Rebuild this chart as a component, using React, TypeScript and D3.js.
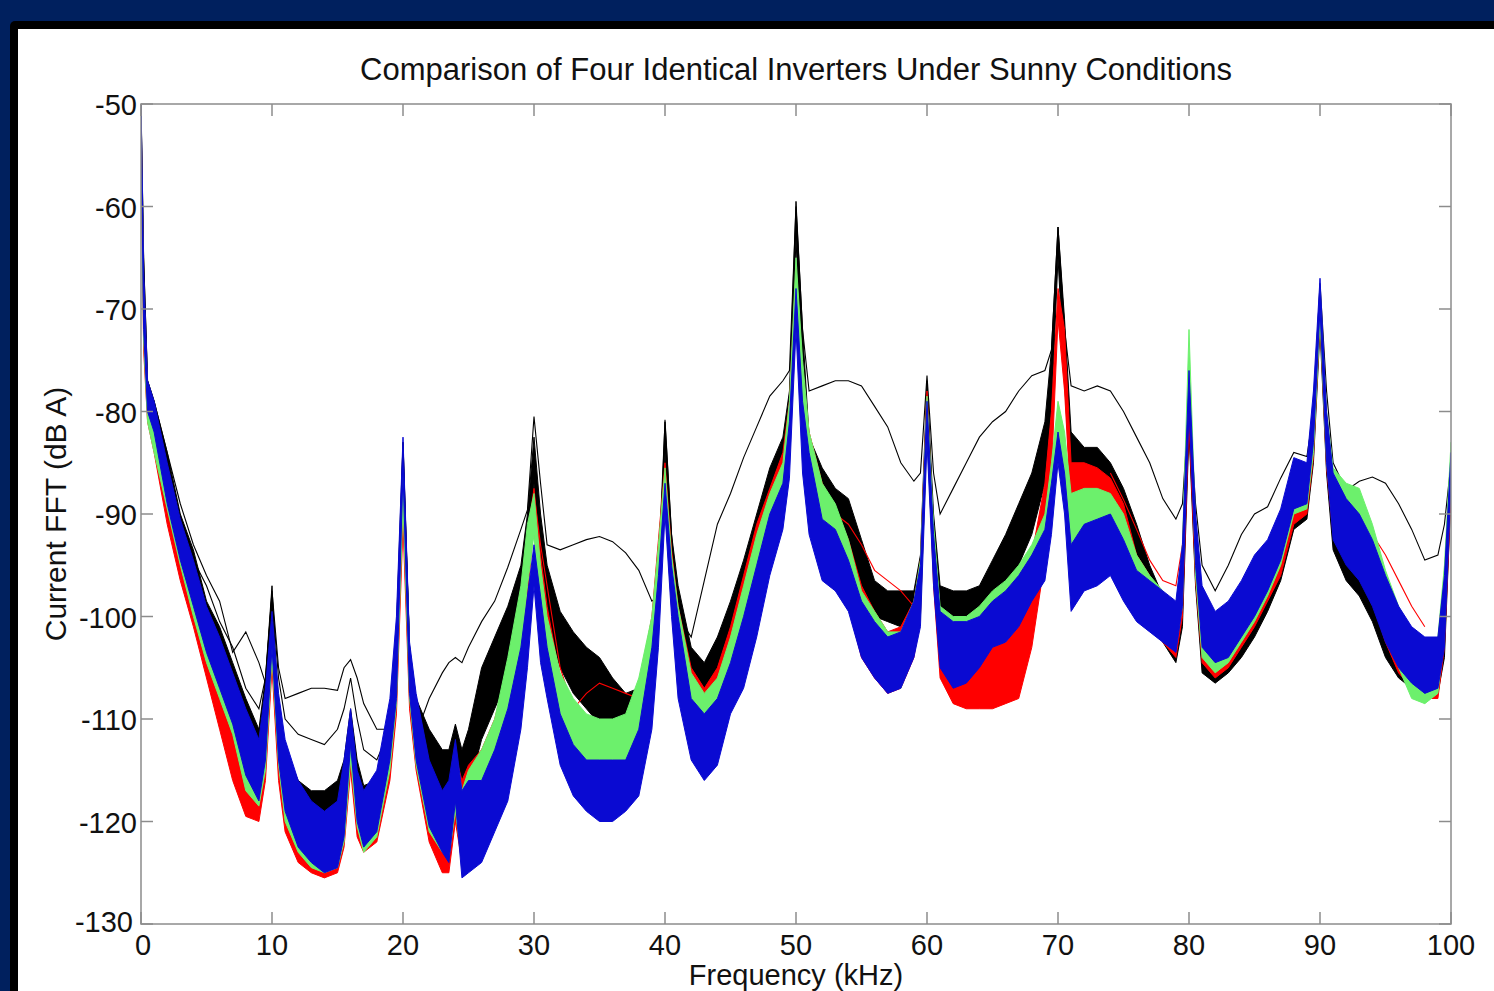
import React from 'react';
import * as d3 from 'd3';

// frequency grid (kHz), denser around the switching harmonics
const freqs = [
  0, 0.2, 0.5, 1, 2, 3, 4, 5, 6, 7, 8, 9, 9.5, 10,
  10.5, 11, 12, 13, 14, 15, 15.5, 16, 16.5, 17, 18, 19, 19.5, 20,
  20.5, 21, 22, 23, 23.5, 24, 24.5, 25, 26, 27, 28, 29, 29.5, 30,
  30.5, 31, 32, 33, 34, 35, 36, 37, 38, 39, 39.5, 40,
  40.5, 41, 42, 43, 44, 45, 46, 47, 48, 49, 49.5, 50,
  50.5, 51, 52, 53, 54, 55, 56, 57, 58, 59, 59.5, 60,
  60.5, 61, 62, 63, 64, 65, 66, 67, 68, 69, 69.5, 70,
  70.5, 71, 72, 73, 74, 75, 76, 77, 78, 79, 79.5, 80,
  80.5, 81, 82, 83, 84, 85, 86, 87, 88, 89, 89.5, 90,
  90.5, 91, 92, 93, 94, 95, 96, 97, 98, 99, 99.5, 100,
];

// each inverter: upper / lower edge of its bundle of FFT traces (dB A)
const blackHi = [
  -50, -65, -77, -79, -84, -90, -93.5, -98.5, -101, -104.5, -108, -111, -106, -97,
  -110, -113, -116, -117, -117, -116, -114, -109, -114, -116.5, -116, -111, -101, -83,
  -103, -108, -111, -113, -113, -110.5, -113, -111, -105, -102, -99, -95, -90, -82.5,
  -90, -95, -99.5, -101.5, -103, -104, -106, -107.5, -107, -101, -95, -81,
  -92, -97, -103, -104.5, -102, -98.5, -94.5, -90, -85.5, -82.5, -78, -59.5,
  -72, -82.5, -85.5, -87.5, -88.5, -92.5, -96.5, -97.5, -97.5, -97.5, -94, -77,
  -90, -97, -97.5, -97.5, -97, -94.5, -92, -89, -86, -81, -74, -62,
  -71, -82, -83.5, -83.5, -85, -87.5, -91, -95, -98, -100.5, -95, -78,
  -91.5, -99, -101, -100, -98.5, -96.5, -94, -91, -87, -86.5, -80, -69,
  -81, -87.5, -90.5, -92, -94.5, -98, -100.5, -102, -103, -102.5, -97, -85,
];
const blackLo = [
  -52, -70, -79, -81.5, -87, -93, -97, -102, -105.5, -109, -113, -116.5, -112, -101,
  -114, -118, -120.5, -121.5, -122, -121.5, -119, -112.5, -119, -121, -120, -115, -108, -87,
  -108, -114, -118, -120, -121, -116, -119, -117, -112, -109, -106, -102, -97, -87,
  -96, -101, -105, -107.5, -109, -110.5, -112.5, -113, -111.5, -106, -99, -84,
  -98, -103, -108.5, -110, -108, -104, -100.5, -95.5, -91, -88, -83, -63,
  -80, -88.5, -91.5, -93, -94.5, -97.5, -100, -100.5, -101, -100.5, -98, -80,
  -94, -101.5, -103.5, -103.5, -102.5, -100.5, -98, -95, -92, -87, -80, -65,
  -77, -88, -89, -89.5, -90.5, -92.5, -96, -99.5, -102.5, -104.5, -101, -82,
  -97, -105.5, -106.5, -105.5, -104, -102, -99.5, -96.5, -91.5, -90.5, -85, -72,
  -86, -93.5, -96.5, -98, -100.5, -104, -106, -107, -108, -107.5, -104, -88,
];
// two single black traces that stray from the bundle
const blackMid = [
  null, null, null, null, -85, -90.5, -94.5, -97, -100.5, -103, -107, -109, -106, -98,
  -106, -110, -111.5, -112, -112.5, -111, -109, -106, -110, -113, -114, -111, -104, -84,
  -103, -109, -112, -114, -115, -111.5, -114, -113, null, null, null, null, null, null,
  null, null, null, null, null, null, null, null, null, null, null, null,
  null, null, null, null, null, null, null, null, null, null, null, null,
  null, null, null, null, null, null, null, null, null, null, null, null,
  null, null, null, null, null, null, null, null, null, null, null, null,
  null, null, null, null, null, null, null, null, null, null, null, null,
  null, null, null, null, null, null, null, null, null, null, null, null,
  null, null, null, null, null, null, null, null, null, null, null, null,
];
const blackOut = [
  -50, -65, -77, -79, -84, -89, -93, -96, -98.5, -103.5, -101.5, -104.5, -106.5, -97.5,
  -105, -108, -107.5, -107, -107, -107.2, -105, -104.2, -106, -108.5, -111, -111, -105, -83,
  -103, -111.5, -108, -105.5, -104.5, -104, -104.5, -103, -100.5, -98.5, -95.2, -91.5, -89.6, -80.5,
  -87, -93, -93.5, -93, -92.5, -92.2, -92.7, -93.8, -95.5, -98.5, -98, -80.8,
  -92, -100, -102, -96.5, -91, -88, -84.5, -81.5, -78.5, -77, -76, -60,
  -72, -78, -77.5, -77, -77, -77.5, -79.5, -81.5, -85, -86.8, -86, -76.5,
  -86, -90, -87.5, -85, -82.5, -81, -80, -78, -76.5, -76, -74, -62,
  -72, -77.5, -78, -77.5, -78, -80, -82.5, -85, -88.5, -90.5, -89, -79,
  -89, -95, -97.5, -95, -92, -90, -89.3, -86.5, -84, -84.4, -80, -67.5,
  -78, -85, -87.7, -86.8, -86.4, -87, -89, -91.5, -94.5, -94, -91, -85,
];

const redHi = [
  -51, -68, -78, -80.5, -86.5, -92, -96.5, -101, -104, -108, -112, -114, -109, -101,
  -109, -114, -118, -120, -121, -120, -116, -111, -117, -119, -117, -110, -102, -88,
  -103.5, -109, -115, -117.5, -117, -113.5, -116, -114.5, -113, -110, -105, -98, -92, -87.5,
  -94, -99, -106, -109, -110, -111, -111, -110, -107, -100, -92.5, -85,
  -93.5, -99, -105, -107, -105, -101, -96, -91, -87.5, -84, -79, -66,
  -76, -82, -87, -89.5, -92.5, -97, -99.5, -101.5, -101, -98.5, -94.5, -78,
  -92, -100, -102.5, -103, -103, -103, -102.5, -101, -94, -87, -80, -68,
  -72, -85, -85, -85.5, -86.5, -89, -94, -96, -98, -99.5, -94, -78,
  -91, -98.5, -100.5, -99.5, -97.5, -95.5, -93.5, -90.5, -86, -86, -79.5, -68.5,
  -80.5, -86, -87.5, -88, -92, -96, -99.5, -101.5, -102.5, -102.5, -96, -84.5,
];
const redLo = [
  -53, -74, -81, -84, -91, -96.5, -101, -106, -111, -116, -119.5, -120, -116, -105,
  -116, -121, -124, -125, -125.5, -125, -122.5, -115, -121.5, -123, -122, -116, -109.5, -91,
  -109, -115, -122, -125, -125, -120, -124, -122, -119, -116.5, -112, -105, -98, -91,
  -101, -106, -112, -115, -116.5, -117.5, -117, -115.5, -112.5, -106, -99, -89,
  -99, -106, -112, -114, -112, -108, -103, -98, -93.5, -89, -84, -70,
  -83, -90, -93.5, -96, -99, -104, -106, -107.5, -107, -104, -100, -81,
  -97, -106, -108.5, -109, -109, -109, -108.5, -108, -103, -94.5, -86, -71,
  -78, -89.5, -88, -88.5, -89.5, -91.5, -98.5, -101, -102.5, -104, -100, -81,
  -96.5, -104.5, -106, -105, -103, -101, -98.5, -96, -91, -90, -84.5, -71,
  -85.5, -92, -94, -95, -98.5, -102.5, -105.5, -107, -108, -108, -103, -88,
];
const redOut = [
  null, null, null, null, null, null, null, null, null, null, null, null, null, null,
  null, null, null, null, null, null, null, null, null, null, null, null, null, null,
  null, null, null, null, null, null, null, null, null, null, null, null, -92, -88,
  -93, -97, -105, -109, -107.5, -106.5, -107, -107.5, -108, -104, -98, -86,
  null, null, null, null, null, null, null, null, null, null, null, -66,
  -78, -85, -88.5, -90, -91, -93, -95.5, -96.5, -97.5, -99, -96, -79,
  null, null, null, null, null, null, null, null, null, null, null, null,
  null, null, null, null, -86, -88.6, -91.5, -94.5, -96.5, -97, -93, -79,
  null, null, null, null, null, null, null, null, null, null, null, null,
  null, null, -88, -90, -92, -94, -96.5, -99, -101, null, null, null,
];

const greenHi = [
  -51, -68, -78, -80, -86, -91, -95.5, -100, -103, -106.5, -110, -113, -108, -100.5,
  -108, -113, -117, -119, -120, -119, -115, -110, -116, -118, -116, -109, -101, -86,
  -103, -108, -114.5, -117.5, -117, -113, -117, -115, -113, -110, -104, -97, -91, -88,
  -95, -100, -105.5, -108, -109.5, -110, -110, -109.5, -106, -100, -93, -85.5,
  -94, -99, -105.5, -107.5, -106, -102, -97, -92, -88, -85, -79, -65,
  -75, -82, -87, -89, -92.5, -97.5, -99.5, -101.5, -101.5, -98.5, -94.5, -78.5,
  -91, -99, -100, -100, -99, -97.5, -96.5, -95, -93, -90, -85, -79,
  -82, -88, -87.5, -87.5, -88, -90, -94, -96, -97.5, -99, -93, -72,
  -91, -98, -100, -99, -97, -95, -93, -90, -85.5, -85.5, -79, -68,
  -80, -85.5, -87, -87.5, -91, -95.5, -99, -101.5, -102.5, -102, -95, -83,
];
const greenLo = [
  -53, -73, -81, -84, -89.5, -95, -100, -104.5, -108, -111.5, -117, -118.5, -115, -104,
  -114.5, -120, -123, -124.5, -125, -124.5, -122, -114, -120.5, -123, -121.5, -115, -108.5, -89,
  -108, -114.5, -121, -123, -123.5, -119, -124, -123, -119, -116, -111, -104, -97, -92,
  -101, -105.5, -111, -114, -115, -116.5, -116.5, -115, -112, -106, -99, -89,
  -99, -106, -111.5, -113.5, -112, -108, -103.5, -98.5, -94, -89, -84, -69,
  -82, -89, -92.5, -95, -98.5, -103.5, -105.5, -107, -107, -103.5, -100, -82,
  -96, -104.5, -106.5, -106, -104.5, -102, -101.5, -100, -98, -95, -90, -83,
  -86, -94, -93.5, -93, -93.5, -95, -99, -100.5, -102, -103, -99, -76,
  -96, -104, -105.5, -104.5, -102.5, -100.5, -98, -95, -90, -89.5, -84, -71,
  -85, -91.5, -93, -94.5, -97.5, -101.5, -105, -108, -108.5, -107.5, -102, -86,
];

const blueHi = [
  -50, -66, -77, -79, -85, -90.5, -94.5, -99, -102, -105.5, -109, -112, -107, -99.5,
  -107.5, -112, -116, -118, -119, -118, -114, -109, -115, -117, -115, -108, -100, -82.5,
  -102.5, -107.5, -114, -117, -116, -112, -117, -116, -116, -113, -109, -103, -98, -93,
  -98, -103, -109.5, -112.5, -114, -114, -114, -114, -111, -103, -96, -87,
  -95, -100, -108, -109.5, -108, -104.5, -100, -95, -90, -87, -81, -68,
  -79, -84, -90.5, -91.5, -94.5, -98.5, -100.5, -102, -101.5, -98.5, -95, -79,
  -92, -99.5, -100.5, -100.5, -100, -98.5, -97.5, -96, -94, -91.5, -87, -82,
  -86, -93, -91, -90.5, -90, -92.5, -95.5, -96.5, -97.5, -98.5, -93, -76,
  -90, -97, -99.5, -98.5, -96.5, -94, -92.5, -89.5, -84.5, -85, -78, -67,
  -80, -86, -88.5, -90, -92.5, -96, -99, -101, -102, -102, -96, -84,
];
const blueLo = [
  -52, -72, -80, -82, -89, -94.5, -99, -103.5, -107, -110.5, -115.5, -118, -114, -103,
  -114, -119, -122.5, -124, -125, -124.5, -121.5, -112.5, -120, -122.5, -121, -114, -108, -86,
  -107.5, -114, -120.5, -123, -124, -118, -125.5, -125, -124, -121, -118, -111, -105, -97,
  -104.5, -108, -114.5, -117.5, -119, -120, -120, -119, -117.5, -111, -103, -90,
  -100, -108, -114, -116, -114.5, -109.5, -107, -102, -96, -91.5, -86.5, -72,
  -86, -92, -96.5, -97.5, -99.5, -104, -106, -107.5, -107, -104, -101, -83,
  -97, -105, -107, -106.5, -105, -103, -102.5, -101, -98.5, -96.5, -92, -85,
  -90, -99.5, -97.5, -97, -96, -98.5, -100.5, -101.5, -102.5, -103.5, -99, -80,
  -95, -103, -104.5, -104, -102, -100, -97.5, -94.5, -89.5, -89, -83, -70,
  -85, -92.5, -95, -96.5, -99, -102.5, -105, -106.5, -107.5, -107, -103, -87,
];

const xTicks = [0, 10, 20, 30, 40, 50, 60, 70, 80, 90, 100];
const yTicks = [-50, -60, -70, -80, -90, -100, -110, -120, -130];

const title = 'Comparison of Four Identical Inverters Under Sunny Conditions';
const xLabel = 'Frequency (kHz)';
const yLabel = 'Current FFT (dB A)';

const W = 1494;
const H = 991;
const plot = { left: 141, top: 104, right: 1451, bottom: 924 };
const font = '"Liberation Sans", Arial, sans-serif';

const groups = [
  { name: 'black', color: '#000000', hi: blackHi, lo: blackLo, extra: [blackMid, blackOut] },
  { name: 'red', color: '#ff0000', hi: redHi, lo: redLo, extra: [redOut] },
  { name: 'green', color: '#6cf06c', hi: greenHi, lo: greenLo, extra: [] },
  { name: 'blue', color: '#0a0ad2', hi: blueHi, lo: blueLo, extra: [] },
];

export default function App() {
  const x = d3.scaleLinear().domain([0, 100]).range([plot.left, plot.right]);
  const y = d3.scaleLinear().domain([-130, -50]).range([plot.bottom, plot.top]);

  const band = (lo: number[], hi: number[]) =>
    d3.area<number>()
      .x((f) => x(f))
      .y0((_, i) => y(lo[i]))
      .y1((_, i) => y(hi[i]))(freqs) || '';

  const edge = (vals: (number | null)[]) =>
    d3.line<number>()
      .defined((_, i) => vals[i] != null)
      .x((f) => x(f))
      .y((_, i) => y(vals[i] as number))(freqs) || '';

  const tickLen = 12;
  const axisColor = '#8c8c8c';

  return (
    <div style={{ position: 'absolute', left: 0, top: 0 }}>
      <svg width={W} height={H} style={{ display: 'block' }}>
        <rect x={0} y={0} width={W} height={H} fill="#00205e" />
        <rect x={10} y={21} width={W} height={H} rx={5} fill="#000000" />
        <rect x={18} y={29} width={W} height={H} fill="#ffffff" />

        <defs>
          <clipPath id="plotclip">
            <rect x={plot.left} y={plot.top} width={plot.right - plot.left} height={plot.bottom - plot.top} />
          </clipPath>
        </defs>

        <g clipPath="url(#plotclip)">
          {groups.map((g) => (
            <g key={g.name}>
              <path d={band(g.lo, g.hi)} fill={g.color} stroke={g.color} strokeWidth={1} strokeLinejoin="round" />
              {g.extra.map((t, k) => (
                <path key={k} d={edge(t)} fill="none" stroke={g.color} strokeWidth={1.1} />
              ))}
            </g>
          ))}
        </g>

        {/* axes box and ticks on all four sides */}
        <rect x={plot.left} y={plot.top} width={plot.right - plot.left} height={plot.bottom - plot.top}
          fill="none" stroke={axisColor} strokeWidth={1.5} />
        {xTicks.map((t) => (
          <g key={'x' + t}>
            <line x1={x(t)} x2={x(t)} y1={plot.bottom} y2={plot.bottom - tickLen} stroke={axisColor} strokeWidth={1.5} />
            <line x1={x(t)} x2={x(t)} y1={plot.top} y2={plot.top + tickLen} stroke={axisColor} strokeWidth={1.5} />
            <text x={t === 0 ? x(t) + 2 : x(t)} y={955} textAnchor="middle" fontFamily={font} fontSize={29} fill="#111">{t}</text>
          </g>
        ))}
        {yTicks.map((t) => (
          <g key={'y' + t}>
            <line x1={plot.left} x2={plot.left + tickLen} y1={y(t)} y2={y(t)} stroke={axisColor} strokeWidth={1.5} />
            <line x1={plot.right} x2={plot.right - tickLen} y1={y(t)} y2={y(t)} stroke={axisColor} strokeWidth={1.5} />
            <text x={t === -130 ? 133 : 137} y={t === -130 ? y(t) + 8 : y(t) + 11} textAnchor="end" fontFamily={font} fontSize={29} fill="#111">{t}</text>
          </g>
        ))}

        <text x={(plot.left + plot.right) / 2} y={80} textAnchor="middle" fontFamily={font} fontSize={31} fill="#111">{title}</text>
        <text x={(plot.left + plot.right) / 2} y={985} textAnchor="middle" fontFamily={font} fontSize={29} fill="#111">{xLabel}</text>
        <text transform={`translate(66,${(plot.top + plot.bottom) / 2}) rotate(-90)`} textAnchor="middle"
          fontFamily={font} fontSize={30} fill="#111">{yLabel}</text>
      </svg>
    </div>
  );
}
